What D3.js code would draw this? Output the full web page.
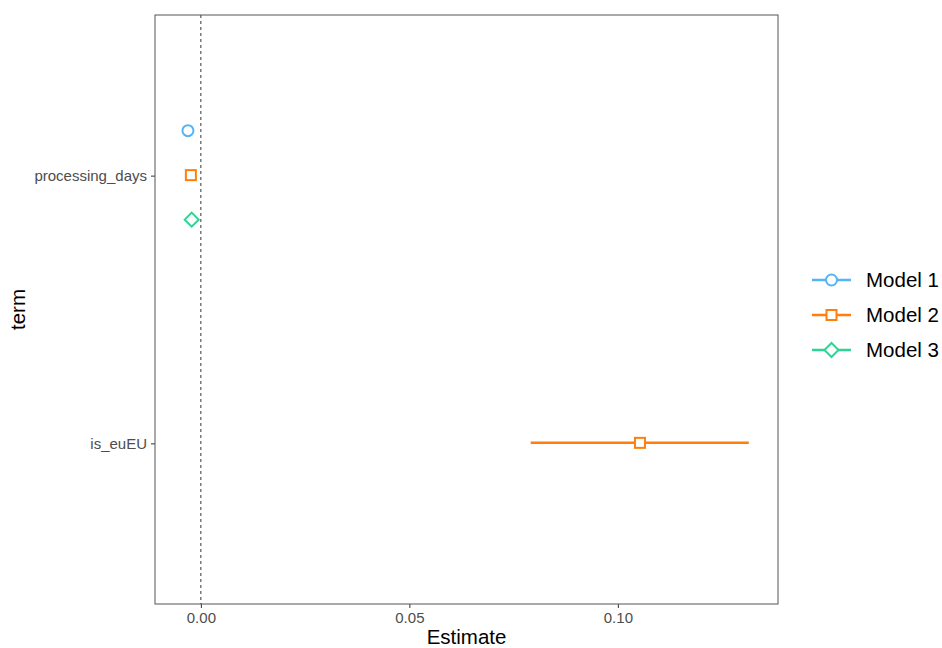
<!DOCTYPE html>
<html>
<head>
<meta charset="utf-8">
<script src="https://cdn.jsdelivr.net/npm/d3@7"></script>
<style>
  body { margin: 0; background: #fff; font-family: "Liberation Sans", Arial, sans-serif; }
  .tick text { fill: #4d4d4d; font-size: 15px; }
  .tick line { stroke: #333; }
  .domain { display: none; }
</style>
</head>
<body>
<div id="chart"></div>
<script>
// Data
var terms = ["processing_days", "is_euEU"];
var models = ["Model 1", "Model 2", "Model 3"];
var colors = ["#56B4F5", "#FF7F0E", "#2DD494"];
var shapes = ["circle", "square", "diamond"];
var estimates = [
  { term: "processing_days", model: "Model 1", est: -0.0031, lo: -0.0033, hi: -0.0029 },
  { term: "processing_days", model: "Model 2", est: -0.0024, lo: -0.0026, hi: -0.0022 },
  { term: "processing_days", model: "Model 3", est: -0.0022, lo: -0.0024, hi: -0.0020 },
  { term: "is_euEU", model: "Model 2", est: 0.1053, lo: 0.0791, hi: 0.1314 }
];
var xTicks = [0, 0.05, 0.1];

var width = 942, height = 648;
var margins = { top: 15, right: 164, bottom: 44, left: 155 };
var chartWidth = width - margins.left - margins.right;
var chartHeight = height - margins.top - margins.bottom;

var svg = d3.select("#chart").append("svg")
  .attr("width", width)
  .attr("height", height);

var chartElement = svg.append("g")
  .attr("transform", "translate(" + margins.left + "," + margins.top + ")");

var xScale = d3.scaleLinear().domain([-0.011, 0.1384]).range([0, chartWidth]);
var yScale = d3.scalePoint().domain(terms).range([0, chartHeight]).padding(0.6);
var dodge = d3.scalePoint().domain(models).range([-45, 44]);
var colorScale = d3.scaleOrdinal().domain(models).range(colors);
var shapeScale = d3.scaleOrdinal().domain(models).range(shapes);

// Axes
chartElement.append("g")
  .attr("class", "x axis")
  .attr("transform", "translate(0," + chartHeight + ")")
  .call(d3.axisBottom(xScale).tickValues(xTicks).tickSize(4).tickPadding(4)
    .tickFormat(d3.format(".2f")));

chartElement.append("g")
  .attr("class", "y axis")
  .call(d3.axisLeft(yScale).tickSize(4).tickPadding(4));

// Zero line
chartElement.append("line")
  .attr("x1", xScale(0)).attr("x2", xScale(0))
  .attr("y1", 0).attr("y2", chartHeight)
  .attr("stroke", "#000")
  .attr("stroke-width", 0.8)
  .attr("stroke-dasharray", "3,3");

var drawShape = function(sel, shape, color) {
  if (shape === "circle") {
    sel.append("circle").attr("r", 5.5);
  } else if (shape === "square") {
    sel.append("rect").attr("x", -5).attr("y", -5).attr("width", 10).attr("height", 10);
  } else {
    sel.append("path").attr("d", "M0,-7L7,0L0,7L-7,0Z");
  }
  sel.selectAll("*")
    .attr("fill", "#fff")
    .attr("stroke", color)
    .attr("stroke-width", 2);
};

// Error bars and points
var pts = chartElement.append("g").selectAll("g")
  .data(estimates)
  .enter()
  .append("g");

pts.append("line")
  .attr("x1", d => xScale(d.lo))
  .attr("x2", d => xScale(d.hi))
  .attr("y1", d => yScale(d.term) + dodge(d.model))
  .attr("y2", d => yScale(d.term) + dodge(d.model))
  .attr("stroke", d => colorScale(d.model))
  .attr("stroke-width", 2.5);

pts.each(function(d) {
  var g = d3.select(this).append("g")
    .attr("transform", "translate(" + xScale(d.est) + "," + (yScale(d.term) + dodge(d.model)) + ")");
  drawShape(g, shapeScale(d.model), colorScale(d.model));
});

// Panel border
chartElement.append("rect")
  .attr("width", chartWidth)
  .attr("height", chartHeight)
  .attr("fill", "none")
  .attr("stroke", "#555")
  .attr("stroke-width", 1);

// Axis titles
svg.append("text")
  .attr("x", margins.left + chartWidth / 2)
  .attr("y", 644)
  .attr("text-anchor", "middle")
  .attr("font-size", 20.5)
  .attr("fill", "#000")
  .text("Estimate");

svg.append("text")
  .attr("transform", "translate(25," + (margins.top + chartHeight / 2) + ") rotate(-90)")
  .attr("text-anchor", "middle")
  .attr("font-size", 20.5)
  .attr("fill", "#000")
  .text("term");

// Legend
var legend = svg.append("g")
  .attr("transform", "translate(812,280)")
  .selectAll("g")
  .data(models)
  .enter()
  .append("g")
  .attr("transform", (d, i) => "translate(0," + i * 35 + ")");

legend.append("line")
  .attr("x1", 0).attr("x2", 39)
  .attr("stroke", d => colorScale(d))
  .attr("stroke-width", 2.5);

legend.each(function(d) {
  var g = d3.select(this).append("g").attr("transform", "translate(19.5,0)");
  drawShape(g, shapeScale(d), colorScale(d));
});

legend.append("text")
  .attr("x", 54)
  .attr("dy", "0.35em")
  .attr("font-size", 20.5)
  .attr("fill", "#000")
  .text(d => d);
</script>
</body>
</html>
